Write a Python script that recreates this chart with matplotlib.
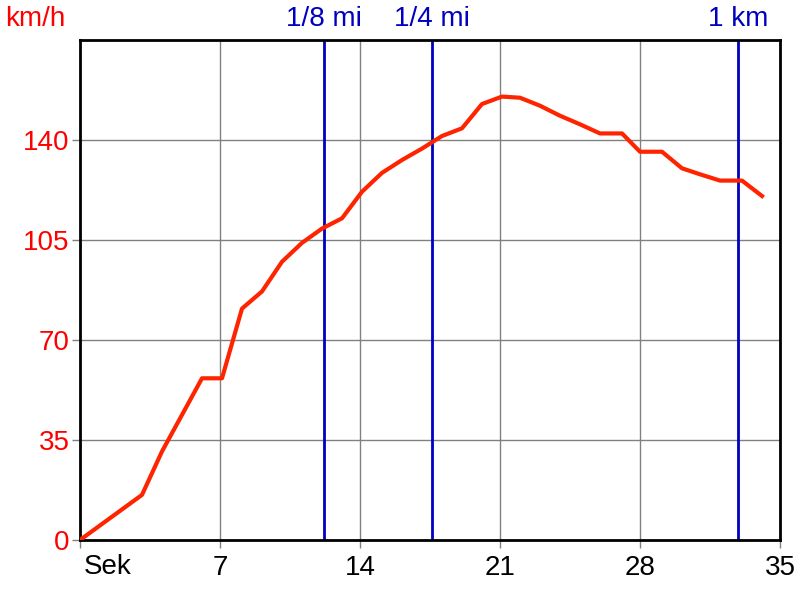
import matplotlib.pyplot as plt
from matplotlib.transforms import blended_transform_factory

# time (s) and speed (km/h)
sek = [0, 3.1, 4.1, 6.1, 7.1, 8.1, 9.1, 10.1, 11.1, 12.1, 13.1, 14.1, 15.1, 16.1,
       17.1, 18.1, 19.1, 20.1, 21.1, 22.0, 23.0, 24.0, 25.0, 26.0, 27.1, 28.0,
       29.1, 30.1, 31.0, 32.0, 33.1, 34.1]
kmh = [0, 15.8, 31, 56.6, 56.6, 81, 87, 97.4, 104, 109, 112.6, 121.9, 128.5, 133,
       137, 141.4, 144.1, 152.6, 155.2, 154.8, 152, 148.5, 145.5, 142.3, 142.3,
       135.9, 135.9, 130.1, 128, 125.8, 125.8, 120.4]

marks = [12.2, 17.6, 32.9]
mark_labels = ['1/8 mi', '1/4 mi', '1 km']

xticks = [0, 7, 14, 21, 28, 35]
yticks = [0, 35, 70, 105, 140]

plt.rcParams['font.family'] = ['Liberation Sans', 'DejaVu Sans']
fs = 20

fig = plt.figure(figsize=(8, 6), dpi=100)
ax = fig.add_axes([0.1, 0.1, 0.875, 0.8333])

ax.set_xlim(0, 35)
ax.set_ylim(0, 175)
ax.grid(True, color='#808080', linewidth=1)
ax.set_axisbelow(True)

top = blended_transform_factory(ax.transData, fig.transFigure)
for m, lab in zip(marks, mark_labels):
    ax.axvline(m, color='#0000C0', linewidth=2, zorder=2)
    ax.text(m, 0.968, lab, color='#0000C0', fontsize=fs, ha='center', va='center',
            transform=top)

ax.plot(sek, kmh, color='#FF2400', linewidth=3, zorder=3, solid_joinstyle='round')

ax.set_xticks(xticks)
ax.set_xticklabels([''] + [str(t) for t in xticks[1:]], fontsize=fs)
ax.set_yticks(yticks)
ax.set_yticklabels([str(t) for t in yticks], fontsize=fs, color='#FF0000')
ax.tick_params(axis='both', direction='out', length=6, width=1, color='#808080')
ax.tick_params(axis='x', pad=5)
ax.tick_params(axis='y', pad=1.5)

for s in ax.spines.values():
    s.set_linewidth(2)
    s.set_color('black')

ax.text(0.2, 0.055, 'Sek', fontsize=fs, ha='left', va='center', transform=top)
fig.text(0.006, 0.968, 'km/h', color='#FF0000', fontsize=fs, ha='left', va='center')

fig.savefig('out.png', dpi=100)
